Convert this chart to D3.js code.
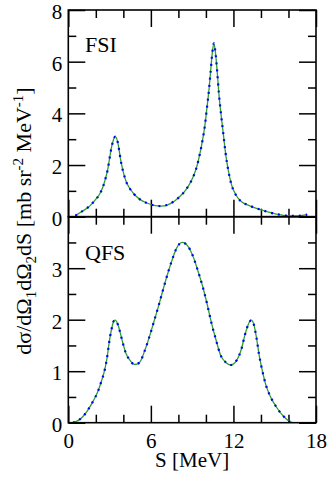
<!DOCTYPE html>
<html><head><meta charset="utf-8">
<script src="https://cdnjs.cloudflare.com/ajax/libs/d3/7.8.5/d3.min.js"></script>
<style>
html,body{margin:0;padding:0;background:#fff;}
svg text{font-family:"Liberation Serif","DejaVu Serif",serif;fill:#000;}
</style></head>
<body>
<svg id="c" width="329" height="478" font-family="Liberation Serif, serif"></svg>
<script>
// ---- data ----
const xTicks = [0, 6, 12, 18];
const xMinor = [2, 4, 8, 10, 14, 16];
const fsiTicks = [0, 2, 4, 6, 8];
const fsiMinor = [1, 3, 5, 7];
const qfsTicks = [0, 1, 2, 3];
const qfsTicksAll = [0, 1, 2, 3, 4];
const qfsMinor = [0.5, 1.5, 2.5, 3.5];

const fsiS = [0.51,1.07,1.55,1.96,2.28,2.52,2.71,2.88,3.0,3.15,3.29,3.41,3.61,3.73,3.85,4.02,4.21,4.46,4.77,5.18,5.66,6.22,6.75,7.26,7.75,8.16,8.53,8.84,9.13,9.37,9.56,9.76,9.93,10.07,10.22,10.34,10.46,10.58,10.70,10.82,10.94,11.09,11.26,11.43,11.62,11.87,12.18,12.59,13.07,13.68,14.28,15.13,15.86,16.58,17.36];
const fsiV = [0.04,0.23,0.41,0.65,0.88,1.16,1.49,1.87,2.26,2.71,2.99,3.10,2.84,2.45,2.07,1.68,1.35,1.10,0.88,0.68,0.54,0.44,0.41,0.47,0.62,0.81,1.03,1.29,1.61,2.0,2.43,2.97,3.55,4.19,4.9,5.61,6.32,6.71,6.32,5.61,4.78,4.0,3.23,2.45,1.81,1.22,0.84,0.58,0.45,0.32,0.22,0.10,0.04,0.03,0.08];

const qfsS = [0.34,0.70,1.07,1.43,1.79,2.11,2.40,2.64,2.81,2.96,3.13,3.32,3.41,3.61,3.78,3.97,4.17,4.46,4.82,5.18,5.57,5.93,6.22,6.54,6.78,7.02,7.31,7.58,7.87,8.28,8.71,9.08,9.44,9.80,10.1,10.41,10.73,11.07,11.45,11.79,12.23,12.59,12.83,13.07,13.29,13.49,13.68,13.87,14.09,14.36,14.70,15.13,15.62,16.10,16.3];
const qfsV = [0,0.04,0.12,0.25,0.41,0.58,0.80,1.02,1.25,1.54,1.80,1.98,1.99,1.90,1.74,1.54,1.36,1.22,1.13,1.17,1.41,1.70,1.96,2.25,2.48,2.71,2.97,3.19,3.39,3.50,3.42,3.22,2.93,2.61,2.29,1.93,1.61,1.31,1.17,1.12,1.21,1.44,1.70,1.90,1.99,1.90,1.64,1.31,1.02,0.73,0.50,0.30,0.13,0.02,0];

// two calculations (green solid, blue dotted) coincide in the figure
const seriesFSI = [
  {name: "calc A", S: fsiS, V: fsiV},
  {name: "calc B", S: fsiS, V: fsiV}
];
const seriesQFS = [
  {name: "calc A", S: qfsS, V: qfsV},
  {name: "calc B", S: qfsS, V: qfsV}
];

// ---- layout ----
const L = 68.3, R = 316, T = 10, M = 216.7, B = 422.7;
const FS = 21;
const FF = '"Liberation Serif","DejaVu Serif",serif';
const svg = d3.select("#c");
const x = d3.scaleLinear().domain([0, 18]).range([L, R]);
const yTop = d3.scaleLinear().domain([0, 8]).range([M, T]);
const yBot = d3.scaleLinear().domain([0, 4]).range([B, M]);

const styles = [
  {stroke: "#2ca02c", width: 1.3, dash: null},
  {stroke: "#0000ff", width: 2.2, dash: "2,5"}
];

function panel(y, series, major, minor, yLabelTicks, showXLabels) {
  const g = svg.append("g");
  const big = 17, small = 8;
  const gb = g.append("g").attr("transform", `translate(0,${y.range()[0]})`);
  gb.call(d3.axisBottom(x).tickValues(xTicks).tickSize(-big).tickPadding(10)
      .tickFormat(showXLabels ? d3.format("d") : () => ""));
  gb.append("g").call(d3.axisBottom(x).tickValues(xMinor).tickSize(-small).tickFormat(() => ""));
  const gt = g.append("g").attr("transform", `translate(0,${y.range()[1]})`);
  gt.call(d3.axisTop(x).tickValues(xTicks).tickSize(-big).tickFormat(() => ""));
  gt.append("g").call(d3.axisTop(x).tickValues(xMinor).tickSize(-small).tickFormat(() => ""));
  const gl = g.append("g").attr("transform", `translate(${L},0)`);
  gl.call(d3.axisLeft(y).tickValues(major).tickSize(-big).tickPadding(6)
      .tickFormat(d => yLabelTicks.includes(d) ? d3.format("d")(d) : ""));
  gl.append("g").call(d3.axisLeft(y).tickValues(minor).tickSize(-small).tickFormat(() => ""));
  gl.selectAll(".tick text").attr("dy", "0.40em");
  const gr = g.append("g").attr("transform", `translate(${R},0)`);
  gr.call(d3.axisRight(y).tickValues(major).tickSize(-big).tickFormat(() => ""));
  gr.append("g").call(d3.axisRight(y).tickValues(minor).tickSize(-small).tickFormat(() => ""));

  g.selectAll("g").attr("font-family", FF).attr("font-size", FS);
  g.selectAll(".domain").remove();
  g.selectAll(".tick line").attr("stroke", "#000").attr("stroke-width", 1.5);
  g.selectAll(".tick text").style("font-size", FS + "px").style("font-family", FF).attr("fill", "#000");

  const line = d3.line().x(d => x(d[0])).y(d => y(d[1])).curve(d3.curveMonotoneX);
  series.forEach((s, i) => {
    const pts = s.S.map((v, k) => [v, s.V[k]]);
    const p = g.append("path").datum(pts).attr("d", line).attr("fill", "none")
      .attr("stroke", styles[i].stroke).attr("stroke-width", styles[i].width);
    if (styles[i].dash) p.attr("stroke-dasharray", styles[i].dash);
  });
  g.append("rect").attr("x", L).attr("y", y.range()[1]).attr("width", R - L)
    .attr("height", y.range()[0] - y.range()[1]).attr("fill", "none")
    .attr("stroke", "#000").attr("stroke-width", 1.6);
  return g;
}

panel(yTop, seriesFSI, fsiTicks, fsiMinor, fsiTicks, false);
panel(yBot, seriesQFS, qfsTicksAll, qfsMinor, qfsTicks, true);

svg.append("text").attr("x", 85).attr("y", 51.7).style("font-size", "22px").style("font-family", FF).text("FSI");
svg.append("text").attr("x", 85).attr("y", 259.5).style("font-size", "22px").style("font-family", FF).text("QFS");

svg.append("text").attr("x", (L + R) / 2).attr("y", 467).attr("text-anchor", "middle")
  .style("font-size", FS + "px").style("font-family", FF).text("S [MeV]");

const yl = svg.append("text").attr("transform", "translate(31,221) rotate(-90)")
  .attr("text-anchor", "middle").style("font-size", "22px").style("font-family", FF);
const parts = [
  ["dσ/dΩ", 0], ["1", 1], ["dΩ", 0], ["2", 1], ["dS [mb sr", 0], ["-2", 2], [" MeV", 0], ["-1", 2], ["]", 0]
];
let shift = 0;
parts.forEach(([t, k]) => {
  const target = k === 1 ? 5 : (k === 2 ? -8 : 0);
  const ts = yl.append("tspan").text(t).attr("dy", target - shift);
  if (k) ts.style("font-size", "15px");
  shift = target;
});
</script>
</body></html>
